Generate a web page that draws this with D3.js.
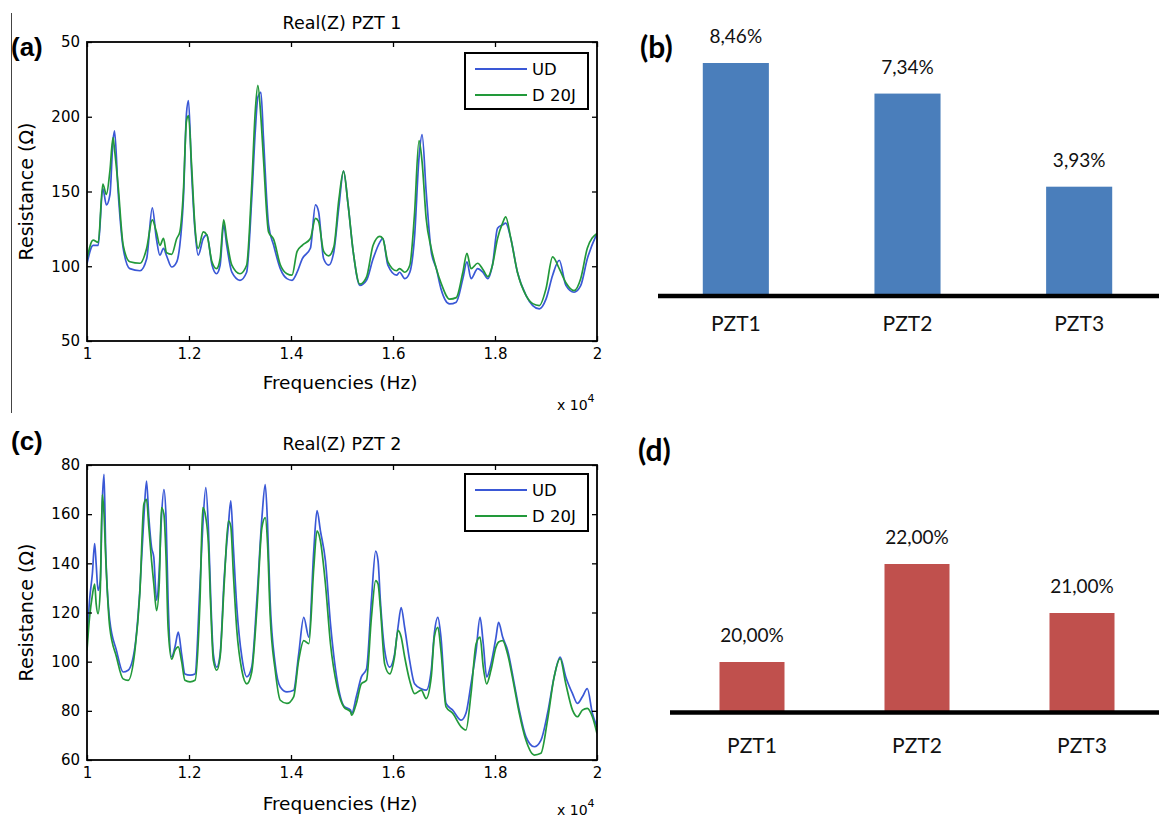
<!DOCTYPE html>
<html><head><meta charset="utf-8">
<script src="https://cdn.jsdelivr.net/npm/d3@7"></script>
<style>body{margin:0;background:#fff}svg{display:block}</style>
</head><body>
<svg id="c" width="1159" height="819"></svg>
<script>
// ---------- DATA ----------
const freqA = [1.000,1.012,1.022,1.031,1.038,1.045,1.051,1.054,1.061,1.071,1.084,1.104,1.117,1.128,1.136,1.143,1.150,1.156,1.166,1.176,1.182,1.189,1.195,1.199,1.205,1.212,1.218,1.228,1.235,1.245,1.254,1.261,1.268,1.274,1.284,1.300,1.313,1.323,1.330,1.335,1.341,1.346,1.356,1.366,1.379,1.392,1.402,1.412,1.422,1.438,1.448,1.454,1.464,1.474,1.484,1.494,1.503,1.512,1.522,1.535,1.548,1.561,1.574,1.580,1.590,1.607,1.613,1.623,1.633,1.642,1.651,1.657,1.665,1.675,1.685,1.694,1.711,1.724,1.737,1.745,1.753,1.766,1.776,1.786,1.795,1.805,1.815,1.821,1.831,1.844,1.861,1.874,1.887,1.900,1.913,1.926,1.939,1.955,1.968,1.981,2.000];
const udA = [101.8,114,114,152,141,148,184,190.6,150,112,98.4,97,105,139,118.6,107.4,112,107,99.5,103,114,145,202,210.8,163.6,123,107.4,118.6,121,101,95,100.7,127.7,114,96,90.6,96,145,190.6,213,216.4,186,127.7,114,98.4,91.7,90.6,96,105,112,141,136.6,105,100.7,109.7,140,163.6,141,109.7,87.2,90.6,105,116,118.6,100.7,94,96,91.7,96,118.6,172.6,188,150,109.7,98.4,85,74.8,76,91.7,103,91.7,98.4,96,91.7,100.7,125.4,127.7,128.8,118.6,96,80.4,73.7,71.5,78,94,104,87.2,82.6,87,105,122];
const d20A = [105,117.5,116,155,148,164,186,178,154,114,103,102,112,131,123,114,118.6,109,108,118.6,123,150,197,200.7,168,125,112,123,121,103,98.4,105,131,118,100.7,95,100.7,154,204,221,199.6,172,123,118,101,95,94,110,114,118.6,132,130,110,107,113,145,163.6,141,109.7,88,92.7,114,120,118.6,103,97,98.4,96,100.7,134,184,170,132,112,98.4,89,78,79,96,108.6,98.4,102,98,93,100.7,118.6,129,133,118.6,96,80.4,75,73.7,85,106.3,98.4,89,83.7,91.7,112,122];

const freqC = [1.000,1.005,1.0105,1.015,1.018,1.0216,1.026,1.030,1.0334,1.0367,1.0446,1.0577,1.0708,1.0807,1.094,1.1036,1.1115,1.1167,1.1213,1.1266,1.131,1.1364,1.1416,1.146,1.1508,1.155,1.159,1.166,1.1725,1.179,1.1856,1.192,1.202,1.2118,1.2216,1.227,1.233,1.238,1.2426,1.2478,1.2544,1.261,1.269,1.2774,1.282,1.287,1.2938,1.3036,1.3134,1.323,1.333,1.343,1.3495,1.354,1.359,1.369,1.379,1.392,1.4052,1.415,1.425,1.435,1.4446,1.451,1.4577,1.4675,1.4774,1.4905,1.5036,1.5167,1.519,1.528,1.538,1.548,1.5577,1.566,1.5707,1.5752,1.5837,1.5935,1.603,1.6098,1.616,1.6228,1.6326,1.6423,1.6554,1.665,1.675,1.681,1.688,1.694,1.704,1.717,1.7336,1.743,1.753,1.763,1.7707,1.777,1.7837,1.792,1.802,1.807,1.815,1.8248,1.8378,1.8476,1.8606,1.877,1.890,1.903,1.916,1.9277,1.9388,1.952,1.9616,1.9713,1.981,1.9909,2.000];
const udC = [108,125,135.7,148,139.7,129,133,165.4,176.2,145,116.8,104.6,95.8,96.5,106,129,158.6,173.5,158.6,146.5,142.4,125,137,158.6,170,158.6,125,101.9,106,112,103,95,94.5,95,131.6,155,170.8,154.6,126,103,97.8,103,134,156,165.4,146.5,122,101.9,93.8,97.8,125,158.6,172,156,125,99,89.7,87.7,88.4,103,118,110,145,161.4,153.2,141,115.4,92.4,82,80.3,79,85.7,93.8,97,125,145,141,125,104.6,97.8,103,114,122,114,100.5,91,89,88.4,96.5,111.4,118,110,83,80.3,76.2,79,91,104.6,118,107.3,93.8,99,110,116,110,104.6,91,80.3,69.5,65.4,68,79,93.8,101.9,93.8,87,83,85.7,89,79,73.5];
const d20C = [104.6,118,127,131.6,123.5,119.5,129,168,160,142.4,114,102,93,92.4,104.6,127.7,164,166,154.6,141,131.6,120.8,131.6,162.7,160,142.4,114,101,104.6,106,100,92.4,91.8,92.4,125,162.7,158.6,148,122,100.5,96.5,101.9,131.6,157.3,155,135.7,112.7,96.5,91,95.8,121,154.6,158.6,148,119.5,96.5,84.3,83,85.7,100.5,108.6,107.3,138,153.2,149,131.6,107.3,89.7,81.6,79.6,78.2,83,91,92.4,118,133,131.6,122,99,95,102,112.7,110,102,92.4,87,88.4,85,93.8,110,114,104.6,81.6,79,73.5,72.2,87,107.3,110,97.8,91,96.5,106,108,108.6,103,89.7,79,68.1,62,62.7,76.2,93.8,101.2,91,80.3,77.6,80.3,81,77.6,70.8];

const xTickVals = [1,1.2,1.4,1.6,1.8,2];
const xTickLabels = ["1","1.2","1.4","1.6","1.8","2"];
const yTickValsA = [50,100,150,200,250];
const yTickLabelsA = ["50","100","150","200","50"];
const yTickValsC = [60,80,100,120,140,160,180];
const yTickLabelsC = ["60","80","100","120","140","160","80"];
const seriesNames = ["UD","D 20J"];

const barCats = ["PZT1","PZT2","PZT3"];
const barB = [8.46,7.34,3.93];
const barBLabels = ["8,46%","7,34%","3,93%"];
const barD = [20,22,21];
const barDLabels = ["20,00%","22,00%","21,00%"];

// ---------- DRAW ----------
const svg = d3.select("#c");
svg.append("rect").attr("width",1159).attr("height",819).attr("fill","#fff");
const MF = "'DejaVu Sans', 'Liberation Sans', Arial, sans-serif";
const BF = "Lato, 'Open Sans', sans-serif";
const BLUE = "#3a58d6", GREEN = "#22993a";

// thin left border line
svg.append("line").attr("x1",11.5).attr("x2",11.5).attr("y1",13).attr("y2",413)
  .attr("stroke","#444").attr("stroke-width",1);

function linePanel(o){
  const g = svg.append("g");
  const x = d3.scaleLinear().domain([1,2]).range([o.x0,o.x1]);
  const y = d3.scaleLinear().domain(o.ydom).range([o.y1,o.y0]);
  const id = "clip"+o.key;
  svg.append("clipPath").attr("id",id).append("rect")
    .attr("x",o.x0).attr("y",o.y0).attr("width",o.x1-o.x0).attr("height",o.y1-o.y0);
  const line = d3.line().curve(d3.curveMonotoneX).x(d=>x(d[0])).y(d=>y(d[1]));
  const s1 = o.freq.map((f,i)=>[f,o.ud[i]]);
  const s2 = o.freq.map((f,i)=>[f,o.d20[i]]);
  g.append("path").datum(s1).attr("d",line).attr("fill","none").attr("stroke",BLUE)
    .attr("stroke-width",1.7).attr("clip-path","url(#"+id+")");
  g.append("path").datum(s2).attr("d",line).attr("fill","none").attr("stroke",GREEN)
    .attr("stroke-width",1.7).attr("clip-path","url(#"+id+")");
  // axes (ticks inside)
  const tl = 5;
  const bottom = d3.axisBottom(x).tickValues(xTickVals).tickSizeInner(-tl).tickSizeOuter(0)
    .tickPadding(7).tickFormat((d,i)=>xTickLabels[i]);
  const top = d3.axisTop(x).tickValues(xTickVals).tickSizeInner(-tl).tickSizeOuter(0).tickFormat("");
  const left = d3.axisLeft(y).tickValues(o.yticks).tickSizeInner(-tl).tickSizeOuter(0)
    .tickPadding(7).tickFormat((d,i)=>o.ylabels[i]);
  const right = d3.axisRight(y).tickValues(o.yticks).tickSizeInner(-tl).tickSizeOuter(0).tickFormat("");
  const axs = [
    g.append("g").attr("transform",`translate(0,${o.y1})`).call(bottom),
    g.append("g").attr("transform",`translate(0,${o.y0})`).call(top),
    g.append("g").attr("transform",`translate(${o.x0},0)`).call(left),
    g.append("g").attr("transform",`translate(${o.x1},0)`).call(right)
  ];
  axs.forEach(a=>{
    a.select(".domain").remove();
    a.selectAll("line").attr("stroke","#000").attr("stroke-width",1.3);
    a.selectAll("text").attr("font-family",MF).attr("font-size",15).attr("fill","#000");
  });
  g.append("rect").attr("x",o.x0).attr("y",o.y0).attr("width",o.x1-o.x0).attr("height",o.y1-o.y0)
    .attr("fill","none").attr("stroke","#000").attr("stroke-width",1.8);
  // title
  g.append("text").attr("x",(o.x0+o.x1)/2).attr("y",o.titleY).attr("text-anchor","middle")
    .attr("font-family",MF).attr("font-size",17.5).text(o.title);
  // panel letter
  g.append("text").attr("x",o.letterX).attr("y",o.letterY).attr("font-family","'Liberation Sans', Arial")
    .attr("font-weight","bold").attr("font-size",26).text(o.letter);
  // y label
  g.append("text").attr("transform",`translate(${o.ylabX},${(o.y0+o.y1)/2}) rotate(-90)`)
    .attr("text-anchor","middle").attr("font-family",MF).attr("font-size",19).text("Resistance (Ω)");
  // x label
  g.append("text").attr("x",(o.x0+o.x1)/2 - 2).attr("y",o.xlabY).attr("text-anchor","middle")
    .attr("font-family",MF).attr("font-size",18.5).text("Frequencies (Hz)");
  // multiplier
  const m = g.append("text").attr("x",o.x1-40).attr("y",o.multY).attr("font-family",MF).attr("font-size",14);
  m.append("tspan").text("x 10");
  m.append("tspan").attr("dy",-8).attr("font-size",11).text("4");
  // legend
  const L = o.leg;
  g.append("rect").attr("x",L.x).attr("y",L.y).attr("width",L.w).attr("height",L.h)
    .attr("fill","#fff").attr("stroke","#000").attr("stroke-width",2);
  [BLUE,GREEN].forEach((c,i)=>{
    const yy = L.y + 16 + i*26;
    g.append("line").attr("x1",L.x+10).attr("x2",L.x+62).attr("y1",yy).attr("y2",yy)
      .attr("stroke",c).attr("stroke-width",1.8);
    g.append("text").attr("x",L.x+67).attr("y",yy).attr("dy","0.36em")
      .attr("font-family",MF).attr("font-size",16.5).text(seriesNames[i]);
  });
}

linePanel({key:"a", x0:87, x1:597, y0:42, y1:341, ydom:[50,250], freq:freqA, ud:udA, d20:d20A,
  yticks:yTickValsA, ylabels:yTickLabelsA, title:"Real(Z) PZT 1", titleY:29,
  letter:"(a)", letterX:11, letterY:56, ylabX:33, xlabY:389, multY:410,
  leg:{x:465, y:53, w:123, h:56}});
linePanel({key:"c", x0:87, x1:597, y0:465, y1:760, ydom:[60,180], freq:freqC, ud:udC, d20:d20C,
  yticks:yTickValsC, ylabels:yTickLabelsC, title:"Real(Z) PZT 2", titleY:450,
  letter:"(c)", letterX:11, letterY:450, ylabX:33, xlabY:810, multY:815,
  leg:{x:465, y:474, w:123, h:57}});

function barPanel(o){
  const g = svg.append("g");
  const x = d3.scaleBand().domain(barCats).range(o.xr).paddingInner(o.pi).paddingOuter(o.pi/2);
  const y = d3.scaleLinear().domain(o.ydom).range([o.base,o.topPx]);
  g.selectAll("rect.bar").data(o.vals).join("rect").attr("class","bar")
    .attr("x",(d,i)=>x(barCats[i])).attr("width",x.bandwidth())
    .attr("y",d=>y(d)).attr("height",d=>o.base-y(d)).attr("fill",o.color);
  g.selectAll("text.val").data(o.vals).join("text").attr("class","val")
    .attr("x",(d,i)=>x(barCats[i])+x.bandwidth()/2).attr("y",d=>y(d)-20)
    .attr("text-anchor","middle").attr("font-family",BF).attr("font-size",19).attr("fill","#111")
    .text((d,i)=>o.labels[i]);
  g.append("line").attr("x1",o.lineX).attr("x2",1159).attr("y1",o.lineY).attr("y2",o.lineY)
    .attr("stroke","#000").attr("stroke-width",4.5);
  g.selectAll("text.cat").data(barCats).join("text").attr("class","cat")
    .attr("x",d=>x(d)+x.bandwidth()/2).attr("y",o.catY).attr("text-anchor","middle")
    .attr("font-family",BF).attr("font-size",21).attr("fill","#111").text(d=>d);
  g.append("text").attr("x",o.letterX).attr("y",o.letterY).attr("font-family",BF)
    .attr("font-weight","bold").attr("font-size",30).text(o.letter);
}

barPanel({xr:[650,1165], pi:0.615, ydom:[0,8.46], base:294, topPx:63, vals:barB, labels:barBLabels,
  color:"#4a7ebb", lineX:658, lineY:296, catY:331, letter:"(b)", letterX:640, letterY:58});
barPanel({xr:[669.5,1164.5], pi:0.606, ydom:[19,22], base:711, topPx:564, vals:barD, labels:barDLabels,
  color:"#c0504d", lineX:670, lineY:712.5, catY:753, letter:"(d)", letterX:638, letterY:461});
</script>
</body></html>
